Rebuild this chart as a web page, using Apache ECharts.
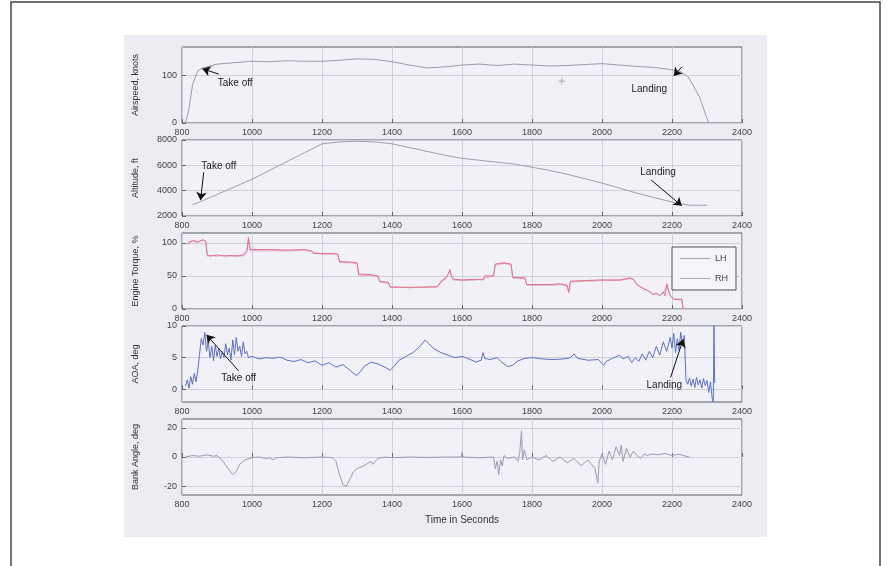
<!DOCTYPE html>
<html><head><meta charset="utf-8">
<script src="https://cdn.jsdelivr.net/npm/echarts@6/dist/echarts.min.js"></script>
<style>html,body{margin:0;padding:0;background:#fff}#c{width:887px;height:566px}</style>
</head><body><div id="c"></div>
<script>
// ---------- data ----------
const xTicksMin = 800, xTicksMax = 2400, xTickStep = 200;

const airspeedTime = [810,820,830,845,860,880,900,950,1000,1050,1100,1150,1200,1250,1300,1350,1400,1450,1500,1550,1600,1650,1700,1750,1800,1850,1900,1950,2000,2050,2100,2150,2200,2225,2245,2260,2280,2295,2305];
const airspeed     = [0,30,80,110,116,120,124,127,130,129,131,130,130,132,135,134,129,122,116,118,122,124,121,124,122,120,121,123,125,122,119,117,112,108,98,80,52,20,0];
const airspeedOddPoint = [[1885, 88]];

const altitudeTime = [830,850,900,950,1000,1050,1100,1150,1200,1250,1300,1350,1400,1450,1500,1550,1600,1650,1700,1750,1800,1850,1900,1950,2000,2050,2100,2150,2200,2250,2300];
const altitude     = [2900,3100,3700,4300,4900,5600,6300,7000,7700,7850,7900,7850,7700,7400,7100,6800,6550,6400,6250,6100,5850,5600,5300,4950,4600,4200,3800,3450,3100,2850,2850];

const torqueTime = [815,830,845,860,868,872,880,900,920,940, 960,975,985,990,995,1050,1100,1150,1170,1175, 1200,1230,1245,1250,1280,1300,1305,1340,1360,1365, 1390,1395,1450,1500,1530,1540,1555,1560,1565,1570, 1575,1600,1640,1660,1665,1690,1695,1720,1740,1745, 1780,1785,1850,1880,1900,1905,1910,1950,2000,2050, 2060,2080,2090,2100,2120,2135,2145,2155,2165,2175, 2180,2185,2190,2195,2200,2205,2210,2220,2228,2232];
const torqueLH   = [98,103,101,105,102,82,80,82,80,81, 80,82,88,108,90,90,89,90,88,84, 84,84,83,72,71,70,53,52,50,42, 40,33,33,33,34,42,48,52,60,50, 45,44,45,44,50,50,68,70,68,48, 47,37,37,38,36,25,42,43,44,44, 45,47,45,37,30,27,22,24,20,26, 20,38,28,20,18,15,16,14,15,0];
const torqueRH   = [100,104,102,104,103,80,81,80,81,80, 81,80,86,104,88,88,88,89,87,85, 83,83,84,70,70,69,51,51,49,41, 39,34,32,34,33,40,47,50,57,49, 44,43,44,45,48,51,66,69,67,47, 46,36,36,37,35,27,41,42,43,43, 44,46,44,36,31,26,23,23,21,24, 22,35,27,21,17,16,15,15,14,0];

const aoaTime = [810,815,820,825,830,835,840,845,850,855, 860,865,870,875,880,885,890,895,900,905, 910,915,920,925,930,935,940,945,950,955, 960,965,970,975,980,985,990,1000,1020,1040, 1060,1080,1100,1120,1140,1160,1180,1200,1220,1240, 1260,1280,1290,1300,1310,1320,1340,1360,1380,1395, 1405,1420,1440,1460,1480,1495,1505,1520,1540,1560, 1580,1600,1620,1640,1655,1660,1665,1680,1700,1715, 1730,1745,1760,1780,1800,1830,1860,1890,1910,1920, 1930,1960,1990,2005,2012,2030,2050,2060,2075,2085, 2095,2105,2115,2125,2135,2145,2155,2165,2175,2185, 2195,2200,2205,2210,2215,2220,2225,2230,2235,2240, 2245,2250,2255,2260,2265,2270,2275,2280,2285,2290, 2295,2300,2305,2310,2315,2318,2320,2322];
const aoa     = [0.5,1.5,0.2,2.0,0.8,2.5,1.2,3.0,5.5,8.0, 7.0,9.0,6.0,7.5,5.0,6.8,4.5,7.0,5.2,6.5, 4.8,6.0,5.0,7.2,5.5,6.5,4.6,7.8,5.5,8.2, 6.0,6.8,5.2,7.5,5.6,6.0,5.0,5.2,4.8,5.0, 4.9,5.1,4.6,4.4,4.7,4.2,4.5,3.8,4.2,3.5, 3.9,3.0,2.5,2.2,2.8,3.6,4.3,4.0,3.5,3.0, 3.6,4.6,5.2,5.8,6.8,7.8,7.2,6.4,5.8,5.4, 5.0,5.2,4.8,4.3,4.6,5.8,4.9,4.7,5.0,4.2, 3.6,3.8,4.5,4.9,5.0,4.8,4.7,4.8,5.0,5.6, 4.9,4.6,4.7,3.8,4.4,4.9,5.4,4.8,5.2,4.2, 5.0,4.4,5.6,4.6,6.0,5.0,6.8,5.4,7.5,6.0, 8.2,6.5,8.8,5.8,8.0,6.2,9.0,7.0,8.5,1.5, 0.8,1.8,0.5,1.6,0.3,1.9,0.7,1.5,0.2,1.7, 0.6,1.4,-0.5,1.2,-1.5,-2,10,1];

const bankTime = [810,830,850,870,890,900,910,920,935,945, 955,965,980,1000,1020,1040,1050,1060,1070,1100, 1150,1200,1230,1240,1250,1260,1270,1280,1290,1300, 1320,1340,1345,1360,1380,1400,1450,1500,1550,1598, 1600,1603,1650,1690,1695,1700,1705,1710,1715,1720, 1730,1750,1760,1765,1770,1773,1778,1785,1800,1820, 1840,1860,1880,1900,1920,1940,1960,1980,1988,1992, 2000,2010,2020,2030,2040,2050,2055,2060,2070,2080, 2090,2100,2110,2120,2130,2140,2160,2180,2200,2220, 2240,2250];
const bank     = [0,1,0.5,1.5,0.5,1,-1,-4,-9,-12, -10,-5,-2,-0.5,0,-1,-0.5,-2,-0.5,0, -0.5,0,-0.5,-3,-12,-19,-20,-15,-10,-8, -6,-3,-5,-1,0,-0.5,0,-0.3,0,0, 3,0,-0.5,0,-8,-3,-12,-2,-6,1, -1,0,-3,3,18,-2,5,-2,0,-2, 1,-3,0,-4,-1,-6,-2,-8,-18,-3, 2,-5,4,-2,7,1,8,-3,6,0, 4,1,-1,2,1,2,1.5,2.5,1,2, 0.5,0];

const yNames = ['Airspeed, knots','Altitude, ft','Engine Torque, %','AOA, deg','Bank Angle, deg'];
const yMin   = [0, 2000, 0, -2, -26];
const yMax   = [160, 8000, 115, 10, 26];
const yTicks = [[0,100],[2000,4000,6000,8000],[0,50,100],[0,5,10],[-20,0,20]];

// annotations: [label text, label position, arrow tail, arrow head] in data units
const airspeedNotes = [['Take off',[952,84],[905,103],[858,114]], ['Landing',[2135,72],[2228,118],[2205,99]]];
const altitudeNotes = [['Take off',[905,5900],[862,5450],[853,3250]], ['Landing',[2160,5450],[2140,4850],[2228,2800]]];
const aoaNotes      = [['Take off',[962,1.8],[962,2.9],[870,8.6]], ['Landing',[2178,0.6],[2196,1.9],[2232,7.9]]];

// ---------- chart ----------
const tops = [47,140,233,326,419], H = 76;
const pairs = (t, v) => t.map((x, i) => [x, v[i]]);
const fmt = v => String(v);
const font = "'Liberation Sans', Arial, sans-serif";

const grids = tops.map(t => ({left:182, width:560, top:t, height:H, show:true,
  borderColor:'#5a5a62', borderWidth:1, backgroundColor:'#f1f1f7', containLabel:false, outerBoundsMode:'none'}));

const xAxes = tops.map((t, i) => ({
  type:'value', gridIndex:i, min:xTicksMin, max:xTicksMax, interval:xTickStep,
  axisLine:{show:false},
  axisTick:{show:true, inside:true, length:4, lineStyle:{color:'#666'}},
  axisLabel:{formatter:fmt, fontSize:9, color:'#444', margin:5, fontFamily:font},
  splitLine:{show:true, lineStyle:{color:'#d0d0d9', width:1}},
  name: i === 4 ? 'Time in Seconds' : '', nameLocation:'middle', nameGap:20,
  nameTextStyle:{fontSize:10, color:'#333', fontFamily:font}
}));

const yAxes = tops.map((t, i) => ({
  type:'value', gridIndex:i, min:yMin[i], max:yMax[i],
  axisLine:{show:false},
  axisTick:{show:true, inside:true, length:4, lineStyle:{color:'#666'}, customValues:yTicks[i]},
  axisLabel:{formatter:fmt, fontSize:9, color:'#444', margin:5, fontFamily:font, customValues:yTicks[i]},
  splitLine:{show:true, lineStyle:{color:'#d0d0d9', width:1}},
  name:yNames[i], nameLocation:'middle', nameGap:42,
  nameTextStyle:{fontSize:9, color:'#333', fontFamily:font}
}));

function notes(list) {
  return {
    markLine:{silent:true, animation:false, symbol:['none','arrow'], symbolSize:8,
      lineStyle:{color:'#111', width:1, type:'solid'}, label:{show:false},
      data:list.map(n => [{coord:n[2]}, {coord:n[3]}])},
    markPoint:{silent:true, animation:false, symbol:'circle', symbolSize:1,
      itemStyle:{color:'rgba(0,0,0,0)'},
      label:{show:true, position:'inside', formatter:'{b}', color:'#222', fontSize:10, fontFamily:font},
      data:list.map(n => ({name:n[0], coord:n[1]}))}
  };
}

const lineBase = {type:'line', symbol:'none', showSymbol:false, animation:false};

const option = {
  animation:false,
  backgroundColor:'#ffffff',
  graphic:[
    {type:'rect', z:-100, silent:true, shape:{x:124, y:35, width:643, height:502}, style:{fill:'#ececf3'}},
    {type:'polyline', z:100, silent:true, shape:{points:[[11,566],[11,2],[880,2],[880,566]]}, style:{stroke:'#444', lineWidth:1.5, fill:null}}
  ],
  grid:grids, xAxis:xAxes, yAxis:yAxes,
  legend:{data:['LH','RH'], orient:'vertical', left:672, top:247, icon:'rect', itemWidth:30, itemHeight:1, itemGap:11,
    padding:[7,8,7,8], borderColor:'#555', borderWidth:1, backgroundColor:'#f5f5f9',
    itemStyle:{color:'#a8a8b0'},
    textStyle:{fontSize:9, color:'#444', fontFamily:font}},
  series:[
    Object.assign({}, lineBase, {name:'Airspeed', xAxisIndex:0, yAxisIndex:0, data:pairs(airspeedTime, airspeed),
      lineStyle:{color:'#9c9ca8', width:1}}, notes(airspeedNotes)),
    {type:'scatter', name:'oddpoint', xAxisIndex:0, yAxisIndex:0, data:airspeedOddPoint, animation:false,
      symbol:'path://M4,0H6V4H10V6H6V10H4V6H0V4H4Z', symbolSize:6, itemStyle:{color:'#b0a0b0'}},
    Object.assign({}, lineBase, {name:'Altitude', xAxisIndex:1, yAxisIndex:1, data:pairs(altitudeTime, altitude),
      lineStyle:{color:'#a0a0ac', width:1}}, notes(altitudeNotes)),
    Object.assign({}, lineBase, {name:'RH', xAxisIndex:2, yAxisIndex:2, data:pairs(torqueTime, torqueRH),
      lineStyle:{color:'#e3a9bd', width:1}}),
    Object.assign({}, lineBase, {name:'LH', xAxisIndex:2, yAxisIndex:2, data:pairs(torqueTime, torqueLH),
      lineStyle:{color:'#e0708f', width:1}}),
    Object.assign({}, lineBase, {name:'AOA', xAxisIndex:3, yAxisIndex:3, data:pairs(aoaTime, aoa),
      lineStyle:{color:'#5f70c4', width:1}}, notes(aoaNotes)),
    Object.assign({}, lineBase, {name:'Bank', xAxisIndex:4, yAxisIndex:4, data:pairs(bankTime, bank),
      lineStyle:{color:'#9a9ab6', width:1}})
  ]
};
const chart = echarts.init(document.getElementById('c'));
chart.setOption(option);
</script></body></html>
